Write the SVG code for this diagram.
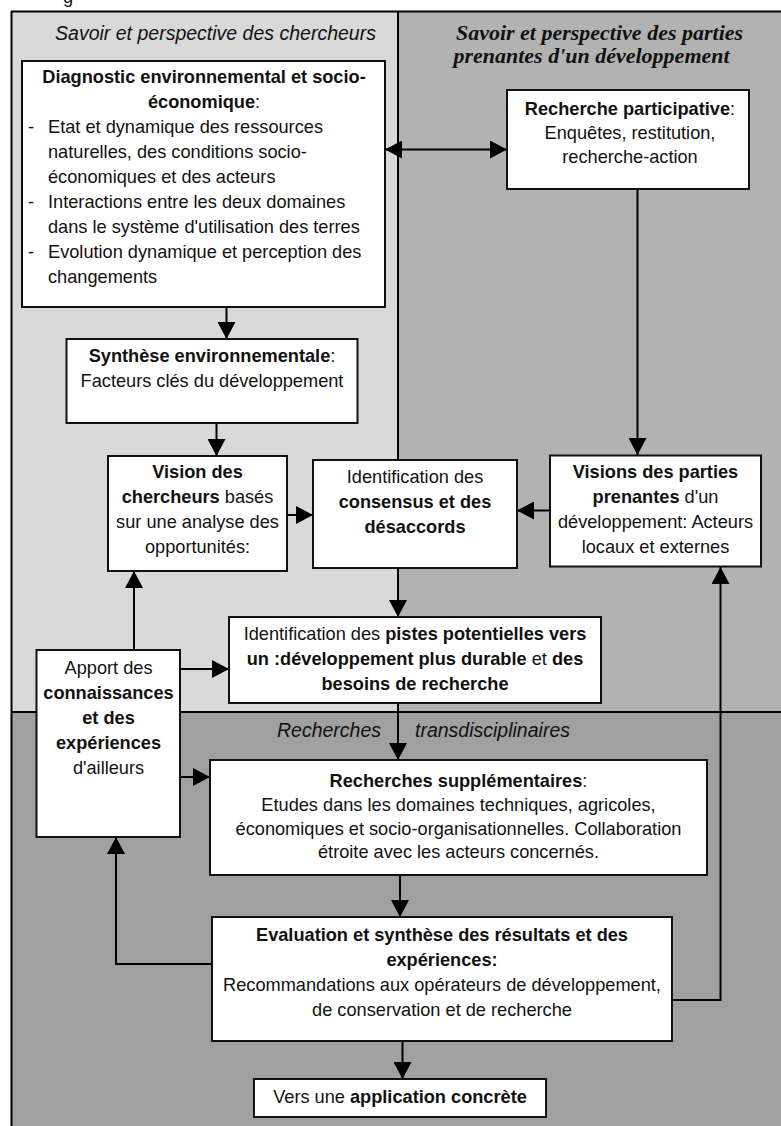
<svg xmlns="http://www.w3.org/2000/svg" width="781" height="1126" viewBox="0 0 781 1126">
<style>
.t{font-family:"Liberation Sans",Arial,sans-serif;font-size:18.2px;fill:#111}
.c{text-anchor:middle}
.b{font-weight:bold}
.hi{font-family:"Liberation Sans",Arial,sans-serif;font-size:19.5px;font-style:italic;fill:#111}
.hs{font-family:"Liberation Serif","Times New Roman",serif;font-size:22px;font-style:italic;font-weight:bold;fill:#111;text-anchor:middle}
.box{fill:#fff;stroke:#111;stroke-width:2}
.ln{stroke:#000;stroke-width:2;fill:none}
.ar{marker-end:url(#ah)}
</style>
<defs>
<marker id="ah" markerUnits="userSpaceOnUse" markerWidth="18" markerHeight="18" refX="17" refY="9" orient="auto">
<path d="M0,0 L17,9 L0,18 z" fill="#000"/>
</marker>
<marker id="ahs" markerUnits="userSpaceOnUse" markerWidth="18" markerHeight="18" refX="17" refY="9" orient="auto-start-reverse">
<path d="M0,0 L17,9 L0,18 z" fill="#000"/>
</marker>
</defs>
<rect x="0" y="0" width="781" height="1126" fill="#fff"/>
<g id="panels">
<rect x="11" y="11" width="387" height="701" fill="#d9d9d9"/>
<rect x="398" y="11" width="383" height="701" fill="#b2b2b2"/>
<rect x="11" y="712" width="770" height="414" fill="#a0a0a0"/>
<path class="ln" d="M11,11.5 H781 M11.5,11 V1126 M398,11 V712 M11,712 H781"/>
<text class="t" x="63" y="3">g</text>
<text class="hi" x="215.5" y="40" text-anchor="middle">Savoir et perspective des chercheurs</text>
<text class="hs" x="599.5" y="40">Savoir et perspective des parties</text>
<text class="hs" x="591.5" y="63">prenantes d'un développement</text>
<text class="hi" x="277" y="737">Recherches</text>
<text class="hi" x="415" y="737">transdisciplinaires</text>
</g>
<g id="connectors">
<line class="ln" x1="385" y1="149.5" x2="507" y2="149.5" marker-start="url(#ahs)" marker-end="url(#ahs)"/>
<line class="ln ar" x1="226.5" y1="307" x2="226.5" y2="339"/>
<line class="ln ar" x1="216.5" y1="423" x2="216.5" y2="456"/>
<line class="ln ar" x1="287" y1="515" x2="313" y2="515"/>
<line class="ln ar" x1="637.5" y1="189" x2="637.5" y2="455"/>
<line class="ln ar" x1="550" y1="510.5" x2="517" y2="510.5"/>
<line class="ln ar" x1="398" y1="568" x2="398" y2="617"/>
<line class="ln ar" x1="134" y1="650" x2="134" y2="571"/>
<line class="ln ar" x1="180" y1="669" x2="229" y2="669"/>
<line class="ln ar" x1="398" y1="703" x2="398" y2="760"/>
<line class="ln ar" x1="180" y1="777" x2="210" y2="777"/>
<line class="ln ar" x1="400" y1="875" x2="400" y2="917"/>
<polyline class="ln ar" points="212,964 116,964 116,837"/>
<polyline class="ln ar" points="672,1000 720.5,1000 720.5,567"/>
<line class="ln ar" x1="402.5" y1="1041" x2="402.5" y2="1079"/>
</g>
<g id="diagnostic">
<rect class="box" x="22" y="61" width="363" height="246"/>
<text class="t c b" x="204" y="83">Diagnostic environnemental et socio-</text>
<text class="t c" x="204" y="108"><tspan class="b">économique</tspan>:</text>
<text class="t" x="28" y="133">-</text>
<text class="t" x="48" y="133">Etat et dynamique des ressources</text>
<text class="t" x="48" y="158">naturelles, des conditions socio-</text>
<text class="t" x="48" y="183">économiques et des acteurs</text>
<text class="t" x="28" y="208">-</text>
<text class="t" x="48" y="208">Interactions entre les deux domaines</text>
<text class="t" x="48" y="233">dans le système d'utilisation des terres</text>
<text class="t" x="28" y="258">-</text>
<text class="t" x="48" y="258">Evolution dynamique et perception des</text>
<text class="t" x="48" y="283">changements</text>
</g>
<g id="recherche-participative">
<rect class="box" x="507" y="90" width="242" height="99"/>
<text class="t c" x="630" y="115"><tspan class="b">Recherche participative</tspan>:</text>
<text class="t c" x="630" y="139">Enquêtes, restitution,</text>
<text class="t c" x="630" y="163">recherche-action</text>
</g>
<g id="synthese">
<rect class="box" x="66.5" y="339" width="291" height="84"/>
<text class="t c" x="212" y="362"><tspan class="b">Synthèse environnementale</tspan>:</text>
<text class="t c" x="212" y="387">Facteurs clés du développement</text>
</g>
<g id="vision-chercheurs">
<rect class="box" x="108" y="456" width="179" height="115"/>
<text class="t c b" x="197.5" y="478">Vision des</text>
<text class="t c" x="197.5" y="503"><tspan class="b">chercheurs</tspan> basés</text>
<text class="t c" x="197.5" y="528">sur une analyse des</text>
<text class="t c" x="197.5" y="553">opportunités:</text>
</g>
<g id="consensus">
<rect class="box" x="313" y="460" width="204" height="108"/>
<text class="t c" x="415" y="483">Identification des</text>
<text class="t c b" x="415" y="508">consensus et des</text>
<text class="t c b" x="415" y="533">désaccords</text>
</g>
<g id="visions-parties">
<rect class="box" x="550" y="455.5" width="211" height="111"/>
<text class="t c b" x="655.5" y="478">Visions des parties</text>
<text class="t c" x="655.5" y="503"><tspan class="b">prenantes</tspan> d'un</text>
<text class="t c" x="655.5" y="528">développement: Acteurs</text>
<text class="t c" x="655.5" y="553">locaux et externes</text>
</g>
<g id="pistes">
<rect class="box" x="229" y="617" width="372" height="86"/>
<text class="t c" x="415" y="640">Identification des <tspan class="b">pistes potentielles vers</tspan></text>
<text class="t c" x="415" y="665"><tspan class="b">un :développement plus durable</tspan> et <tspan class="b">des</tspan></text>
<text class="t c b" x="415" y="690">besoins de recherche</text>
</g>
<g id="apport">
<rect class="box" x="36.5" y="650" width="143.5" height="187"/>
<text class="t c" x="108.5" y="674">Apport des</text>
<text class="t c b" x="108.5" y="699">connaissances</text>
<text class="t c b" x="108.5" y="724">et des</text>
<text class="t c b" x="108.5" y="749">expériences</text>
<text class="t c" x="108.5" y="774">d'ailleurs</text>
</g>
<g id="recherches-supp">
<rect class="box" x="210" y="760" width="497" height="115"/>
<text class="t c" x="458.5" y="787"><tspan class="b">Recherches supplémentaires</tspan>:</text>
<text class="t c" x="458.5" y="811">Etudes dans les domaines techniques, agricoles,</text>
<text class="t c" x="458.5" y="835">économiques et socio-organisationnelles. Collaboration</text>
<text class="t c" x="458.5" y="858">étroite avec les acteurs concernés.</text>
</g>
<g id="evaluation">
<rect class="box" x="212" y="917" width="460" height="124"/>
<text class="t c b" x="442" y="941">Evaluation et synthèse des résultats et des</text>
<text class="t c b" x="442" y="966">expériences:</text>
<text class="t c" x="442" y="991">Recommandations aux opérateurs de développement,</text>
<text class="t c" x="442" y="1016">de conservation et de recherche</text>
</g>
<g id="vers">
<rect class="box" x="254" y="1079" width="292" height="38"/>
<text class="t c" x="400" y="1103">Vers une <tspan class="b">application concrète</tspan></text>
</g>
</svg>
